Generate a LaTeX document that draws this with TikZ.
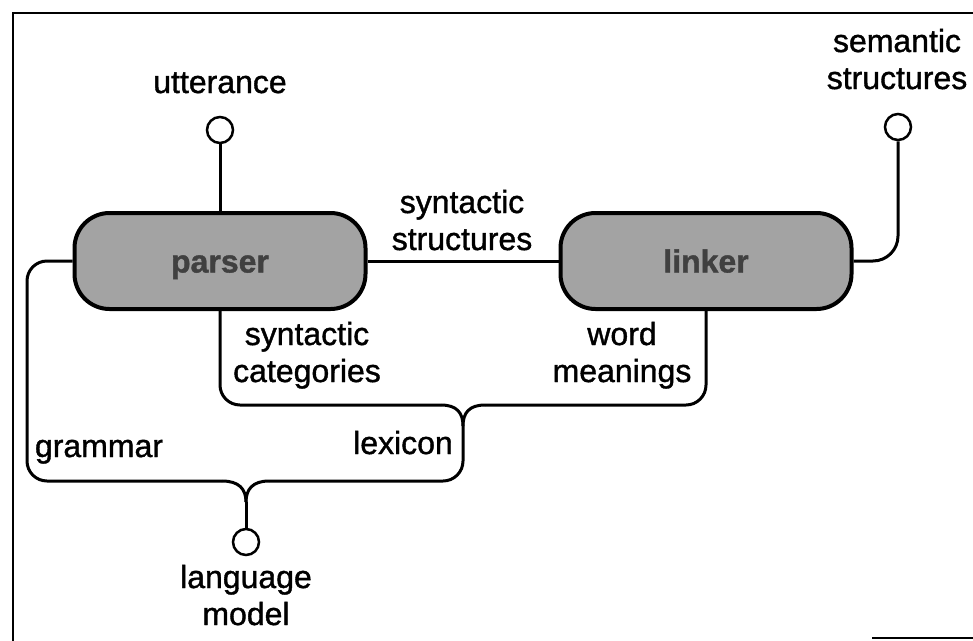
\documentclass[tikz,border=0pt]{standalone}
\usepackage{fontspec}
\setmainfont[FakeBold=1.2]{Liberation Sans}
\newcommand{\twoline}[2]{\vtop{\baselineskip=37pt\halign{\hfil##\hfil\cr #1\cr #2\cr}}}
\begin{document}
\begin{tikzpicture}[x=1pt,y=-1pt,
  conn/.style={line width=3pt, rounded corners=20pt},
  frame/.style={line width=2pt},
  proc/.style={draw, line width=4pt, fill=black!36, rounded corners=35pt,
    minimum width=291pt, minimum height=96pt, inner sep=0pt,
    text height=23pt, text depth=0pt,
    font=\fontsize{32}{37}\selectfont\bfseries, text=black!75},
  port/.style={draw, circle, line width=2.5pt, minimum size=26pt, inner sep=0pt, fill=white},
  lbl/.style={font=\fontsize{32}{37}\selectfont, inner sep=0pt, anchor=base}]
\useasboundingbox (0,0) rectangle (973,640);
% frame
\draw[frame] (980,13) -- (13,13) -- (13,645);
\draw[frame] (872,638) -- (980,638);
% nodes
\node[proc] (parser) at (220,261) {parser};
\node[proc] (linker) at (706,261) {linker};
\node[port] (utt) at (220,130) {};
\node[port] (sem) at (898,127) {};
\node[port] (lm) at (246,542) {};
\coordinate (lxj) at (463,426);
\coordinate (lmj) at (246,502);
% connectors
\draw[conn] (utt) -- (parser);
\draw[conn] (parser.east) -- (linker.west);
\draw[conn, rounded corners=25pt] (sem.south) |- (linker.east);
\draw[conn] (parser.west) -| (27,481) -- (222,481);
\draw[line width=3pt] (222,481) .. controls (239,481) and (246,489) .. (lmj);
\draw[conn] (lxj) |- (269,481);
\draw[line width=3pt] (269,481) .. controls (253,481) and (246,489) .. (lmj);
\draw[line width=3pt] (lmj) -- (lm.north);
\draw[conn] (parser.south) |- (441,405);
\draw[line width=3pt] (441,405) .. controls (457,405) and (463,413) .. (lxj);
\draw[conn] (linker.south) |- (485,405);
\draw[line width=3pt] (485,405) .. controls (469,405) and (463,413) .. (lxj);
% labels
\node[lbl] (tutt) at (220,93) {utterance};
\node[lbl] (tsem) at (897,52) {\twoline{semantic}{structures}};
\node[lbl] (tss) at (462,213) {\twoline{syntactic}{structures}};
\node[lbl] (tsc) at (307,345) {\twoline{syntactic}{categories}};
\node[lbl] (twm) at (622,345) {\twoline{word}{meanings}};
\node[lbl] (tgr) at (99,457) {grammar};
\node[lbl] (tlx) at (403,454) {lexicon};
\node[lbl] (tlm) at (246,588) {\twoline{language}{model}};
\end{tikzpicture}
\end{document}
